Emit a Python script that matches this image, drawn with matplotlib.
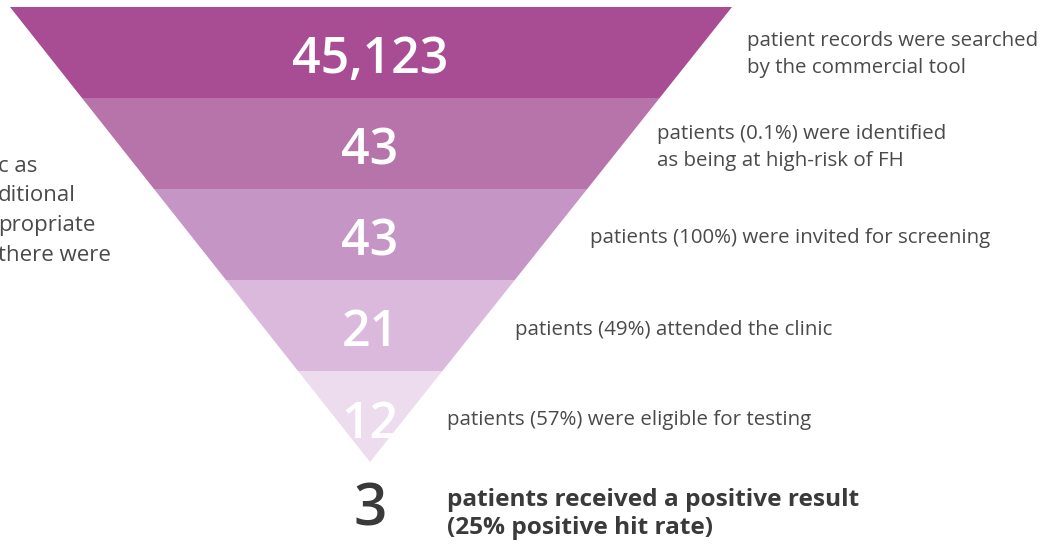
import numpy as np
import matplotlib.pyplot as plt

## datos del embudo
counts = ["45,123", "43", "43", "21", "12"]
labels = ["patient records were searched\nby the commercial tool",
          "patients (0.1%) were identified\nas being at high-risk of FH",
          "patients (100%) were invited for screening",
          "patients (49%) attended the clinic",
          "patients (57%) were eligible for testing"]
final_count = "3"
final_label = "patients received a positive result\n(25% positive hit rate)"
left_lines = ["c as", "ditional", "propriate", "there were"]

colors = ["#a84c93", "#b674ab", "#c595c6", "#dbb9dd", "#eddcee"]
label_x = [747, 657, 590, 515, 447]

## geometria (pixeles)
W, H = 1055, 547
top, apex_y = 7, 462
x_left, x_right, x_apex = 10, 732, 370
nb = len(counts)
bh = (apex_y - top) / nb

def edges(y):
    f = (y - top) / (apex_y - top)
    return x_left + (x_apex - x_left) * f, x_right - (x_right - x_apex) * f

fig = plt.figure(figsize=[W / 100, H / 100], dpi=100)
ax = fig.add_axes([0, 0, 1, 1])
ax.set_xlim(0, W)
ax.set_ylim(H, 0)
ax.axis('off')

font = ['Open Sans', 'DejaVu Sans']
gray = '#4a4a4a'

for i in range(nb):
    y0 = top + i * bh
    y1 = y0 + bh
    l0, r0 = edges(y0)
    l1, r1 = edges(y1)
    ax.fill([l0, r0, r1, l1], [y0, y0, y1, y1], color=colors[i], lw=0)
    ax.text(x_apex, y0 + bh / 2 + 8, counts[i], ha='center', va='center',
            color='white', fontsize=36, fontweight='semibold', family=font)
    ax.text(label_x[i], y0 + bh / 2 + (2 if i == 0 else 4), labels[i], ha='left', va='center',
            color=gray, fontsize=14.75, family=font, linespacing=1.45)

ax.text(x_apex, 511, final_count, ha='center', va='center', color='#3a3a3a',
        fontsize=42, fontweight='semibold', family=font)
ax.text(447, 514, final_label, ha='left', va='center', color='#3a3a3a',
        fontsize=17.6, fontweight='bold', family=font, linespacing=1.25)

for k, s in enumerate(left_lines):
    ax.text(-2, 166 + k * 29.7, s, ha='left', va='center', color=gray,
            fontsize=16, family=font)

fig.savefig('out.png', dpi=100)
